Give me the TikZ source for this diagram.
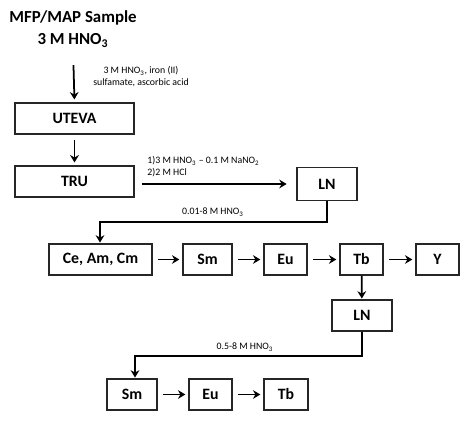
\documentclass[tikz,border=0pt]{standalone}
\usepackage{fontspec}
\setmainfont{Carlito}
\usetikzlibrary{arrows.meta}
\tikzset{
	chem/.style={draw=black!85,line width=0.8pt,minimum height=17.5pt,inner sep=0pt,font=\bfseries\fontsize{9}{10}\selectfont},
	note/.style={font=\fontsize{5.6}{6.6}\selectfont,align=left,inner sep=0pt},
	flow/.style={->,line width=1pt,shorten <=3pt,shorten >=1.7pt}
}
\newcommand{\nitric}{HNO\textsubscript{3}}
\begin{document}
\begin{tikzpicture}[>={Stealth[length=4.2pt,width=5pt,inset=1.4pt]},x=0.02cm,y=-0.02cm]
		\useasboundingbox (0,0) rectangle (474,422);
		\node[align=center,font=\bfseries\fontsize{9.6}{12.5}\selectfont,inner sep=0pt] (sample) at (73,29) {MFP/MAP Sample\\3 M \nitric};
		\node[chem,minimum width=119*0.02cm] (uteva) at (74.5,118.5) {UTEVA};
		\node[chem,minimum width=119*0.02cm] (tru) at (74.5,181.5) {TRU};
		\node[chem,minimum width=60*0.02cm,minimum height=19pt] (ln) at (327,184) {LN};
		\node[chem,minimum width=103*0.02cm] (ceamcm) at (100.5,259.5) {Ce, Am, Cm};
		\node[chem,minimum width=49*0.02cm] (sm) at (207.5,259.5) {Sm};
		\node[chem,minimum width=43*0.02cm] (eu) at (285.5,259.5) {Eu};
		\node[chem,minimum width=43*0.02cm] (tb) at (361.5,259.5) {Tb};
		\node[chem,minimum width=43*0.02cm] (y) at (437.5,259.5) {Y};
		\node[chem,minimum width=60*0.02cm] (lnb) at (362,315.5) {LN};
		\node[chem,minimum width=50*0.02cm] (smb) at (132,394.5) {Sm};
		\node[chem,minimum width=43*0.02cm] (eub) at (210.5,394.5) {Eu};
		\node[chem,minimum width=44*0.02cm] (tbb) at (286,394.5) {Tb};
		% reagents
		\node[note,align=center] (feed) at (141,76.5) {3 M \nitric, iron (II)\\sulfamate, ascorbic acid};
		\node[note,anchor=south west] (strip) at (147,177) {1)3 M \nitric\ -- 0.1 M NaNO\textsubscript{2}\\2)2 M HCl};
		\node[note] (elute) at (213,212) {0.01-8 M \nitric};
		\node[note] (eluteb) at (245,347) {0.5-8 M \nitric};
		% flow
		\draw[flow,shorten <=10pt] (sample.south) -- (uteva.north);
		\draw[flow] (uteva) -- (tru);
		\draw[flow,shorten <=4pt,shorten >=5.5pt] (tru.east |- ln.west) -- (ln.west);
		\draw[->,line width=1pt,shorten >=0.5pt] (ln.south) |- (100,222) -- (ceamcm.north -| 100,0);
		\draw[flow] (ceamcm) -- (sm);
		\draw[flow] (sm) -- (eu);
		\draw[flow] (eu) -- (tb);
		\draw[flow] (tb) -- (y);
		\draw[flow,shorten <=0pt,shorten >=0.5pt] (tb) -- (lnb);
		\draw[->,line width=1pt,shorten >=0.5pt] (lnb.south) |- (135,356) -- (smb.north -| 135,0);
		\draw[flow] (smb) -- (eub);
		\draw[flow] (eub) -- (tbb);
\end{tikzpicture}
\end{document}
